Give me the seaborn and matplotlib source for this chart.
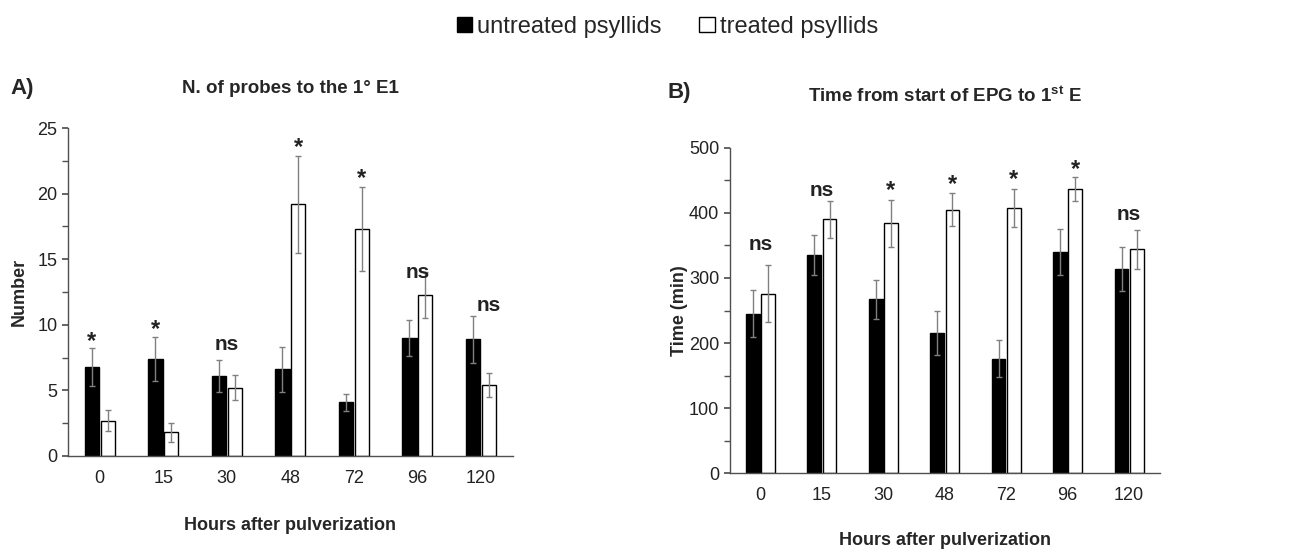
import numpy as np
import pandas as pd
import seaborn as sns
import matplotlib.pyplot as plt
from matplotlib.patches import Patch
from matplotlib.ticker import MultipleLocator

hours = ["0", "15", "30", "48", "72", "96", "120"]
groups = ["untreated psyllids", "treated psyllids"]

# A) number of probes to the first E1
probes_untreated = [6.8, 7.4, 6.1, 6.6, 4.1, 9.0, 8.9]
probes_untreated_se = [1.45, 1.65, 1.25, 1.7, 0.65, 1.4, 1.8]
probes_treated = [2.7, 1.8, 5.2, 19.2, 17.3, 12.3, 5.4]
probes_treated_se = [0.8, 0.75, 0.95, 3.7, 3.2, 1.75, 0.9]
probes_marks = ["*", "*", "ns", "*", "*", "ns", "ns"]
probes_mark_at = ["u", "u", "c", "t", "t", "c", "t"]
probes_mark_y = [8.7, 9.65, 8.5, 23.55, 21.15, 14.0, 11.5]

# B) time from start of EPG to first E
time_untreated = [245, 335, 267, 215, 176, 340, 314]
time_untreated_se = [36, 31, 30, 34, 29, 35, 34]
time_treated = [276, 390, 384, 405, 408, 437, 344]
time_treated_se = [44, 29, 36, 25, 29, 18, 30]
time_marks = ["ns", "ns", "*", "*", "*", "*", "ns"]
time_mark_at = ["c", "c", "t", "t", "t", "t", "c"]
time_mark_y = [351, 435, 435, 443, 452, 467, 398]

sns.set_theme(style="white")
plt.rcParams["font.family"] = ["Liberation Sans", "DejaVu Sans"]
plt.rcParams["mathtext.fontset"] = "custom"
plt.rcParams["mathtext.rm"] = "Liberation Sans"
plt.rcParams["mathtext.bf"] = "Liberation Sans:bold"

spine_col = "#505050"
err_col = "#808080"


def make_df(untreated, treated):
    return pd.DataFrame(
        {
            "hours": hours * 2,
            "group": [groups[0]] * len(hours) + [groups[1]] * len(hours),
            "value": list(untreated) + list(treated),
        }
    )


def draw_panel(ax, untreated, untreated_se, treated, treated_se, marks, mark_at, mark_y):
    df = make_df(untreated, treated)
    sns.barplot(
        data=df,
        x="hours",
        y="value",
        hue="group",
        order=hours,
        hue_order=groups,
        palette={groups[0]: "black", groups[1]: "white"},
        edgecolor="black",
        linewidth=1,
        width=0.5,
        gap=0.1,
        errorbar=None,
        legend=False,
        ax=ax,
    )
    bars = ax.patches
    n = len(hours)
    xs = [b.get_x() + b.get_width() / 2 for b in bars]
    ax.errorbar(
        xs[:n], untreated, yerr=untreated_se, fmt="none",
        ecolor=err_col, elinewidth=1, capsize=2.5, capthick=1, zorder=3,
    )
    ax.errorbar(
        xs[n:], treated, yerr=treated_se, fmt="none",
        ecolor=err_col, elinewidth=1, capsize=2.5, capthick=1, zorder=3,
    )
    for i in range(n):
        if mark_at[i] == "u":
            x = xs[i]
        elif mark_at[i] == "t":
            x = xs[n + i]
        else:
            x = (xs[i] + xs[n + i]) / 2
        size = 17 if marks[i] == "*" else 15
        ax.text(x, mark_y[i], marks[i], ha="center", va="center",
                fontsize=size, fontweight="bold", color="#222222")

    sns.despine(ax=ax)
    for s in ["left", "bottom"]:
        ax.spines[s].set_color(spine_col)
        ax.spines[s].set_linewidth(1)
    ax.tick_params(axis="y", which="both", direction="out", length=4,
                   color=spine_col, left=True, labelsize=13, labelcolor="#222222")
    ax.tick_params(axis="x", length=0, labelsize=13, labelcolor="#222222", pad=10)
    ax.set_xlim(-0.5, len(hours) - 0.5)


fig = plt.figure(figsize=(12.96, 5.52), dpi=100)
ax1 = fig.add_axes([0.0525, 0.174, 0.343, 0.594])
ax2 = fig.add_axes([0.563, 0.143, 0.332, 0.589])

draw_panel(ax1, probes_untreated, probes_untreated_se, probes_treated, probes_treated_se,
           probes_marks, probes_mark_at, probes_mark_y)
ax1.set_ylim(0, 25)
ax1.yaxis.set_major_locator(MultipleLocator(5))
ax1.yaxis.set_minor_locator(MultipleLocator(2.5))
ax1.set_ylabel("Number", fontsize=13, fontweight="bold", labelpad=7)
ax1.set_xlabel("Hours after pulverization", fontsize=13, fontweight="bold", labelpad=22)
ax1.set_title("N. of probes to the 1° E1", fontsize=13.5, fontweight="bold", pad=25)

draw_panel(ax2, time_untreated, time_untreated_se, time_treated, time_treated_se,
           time_marks, time_mark_at, time_mark_y)
ax2.set_ylim(0, 500)
ax2.yaxis.set_major_locator(MultipleLocator(100))
ax2.yaxis.set_minor_locator(MultipleLocator(50))
ax2.set_ylabel("Time (min)", fontsize=13, fontweight="bold", labelpad=1)
ax2.set_xlabel("Hours after pulverization", fontsize=13, fontweight="bold", labelpad=20)
ax2.set_title(r"Time from start of EPG to 1$^{\mathbf{st}}$ E", fontsize=13.5,
              fontweight="bold", pad=33)

fig.text(0.008, 0.84, "A)", fontsize=16, fontweight="bold", va="center")
fig.text(0.515, 0.833, "B)", fontsize=16, fontweight="bold", va="center")

handles = [
    Patch(facecolor="black", edgecolor="black", label=groups[0]),
    Patch(facecolor="white", edgecolor="black", label=groups[1]),
]
fig.legend(handles=handles, loc="upper center", bbox_to_anchor=(0.515, 1.01), ncol=2,
           frameon=False, fontsize=17, handlelength=0.65, handleheight=0.65,
           handletextpad=0.2, columnspacing=1.6)

fig.savefig("out.png", dpi=100, facecolor="white")
